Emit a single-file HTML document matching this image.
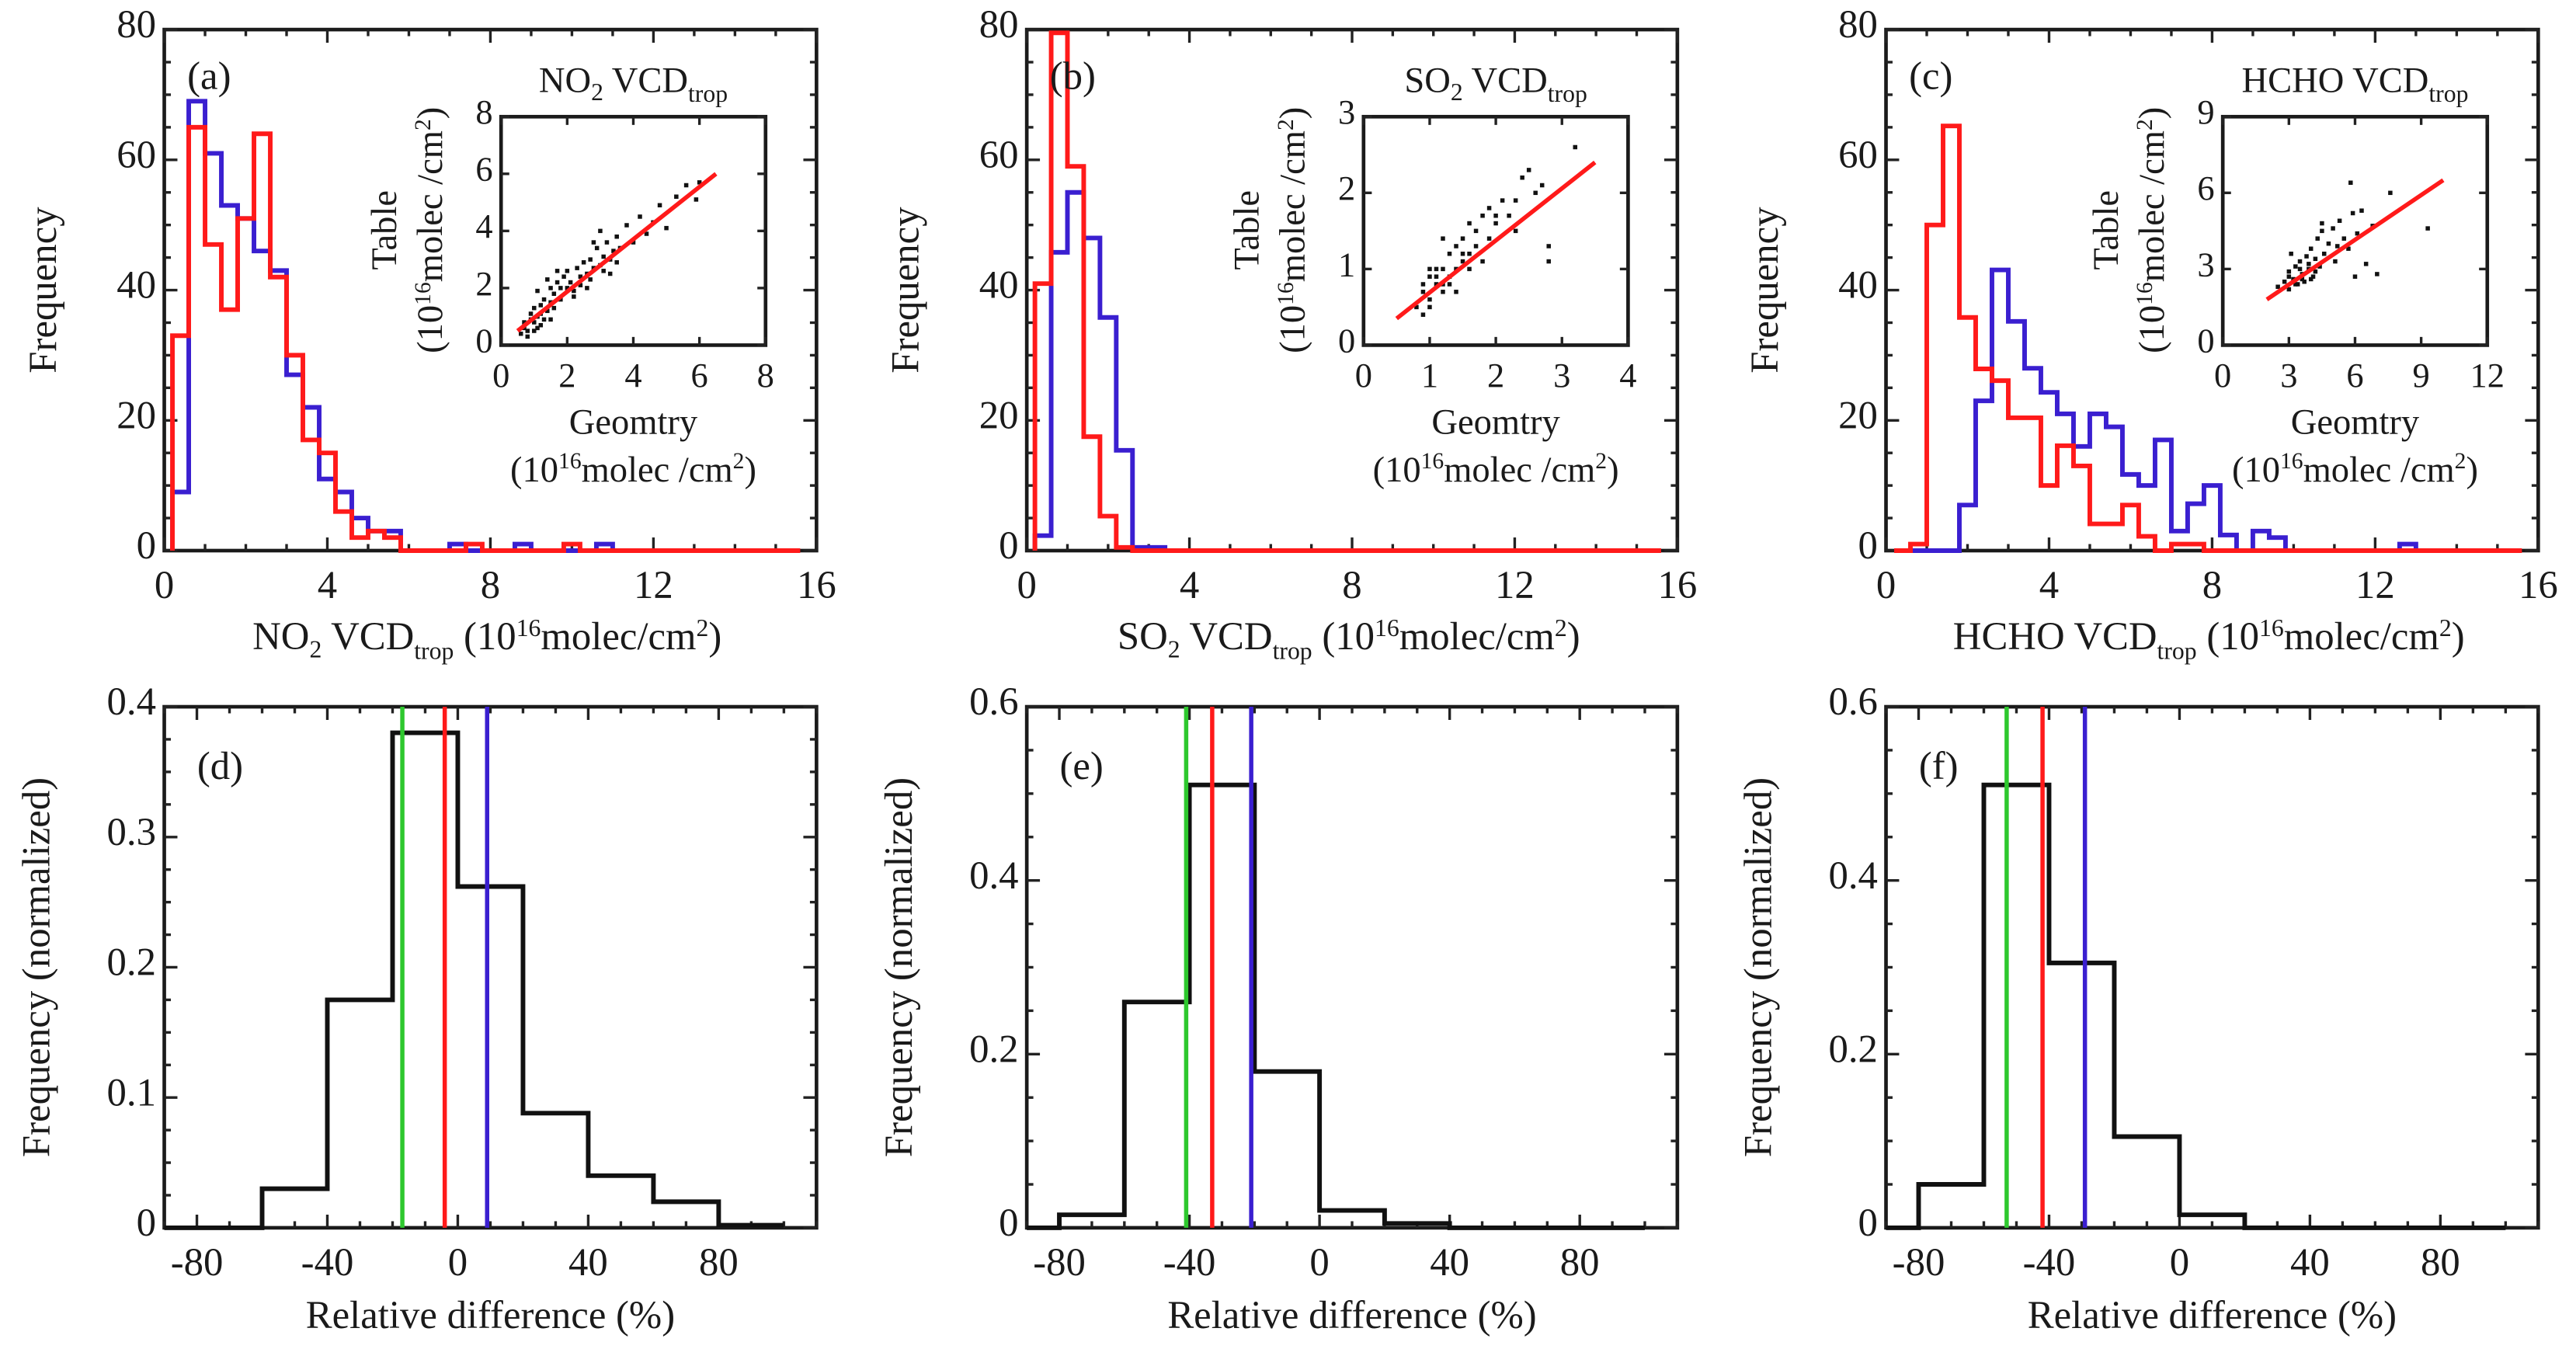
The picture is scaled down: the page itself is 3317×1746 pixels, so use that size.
<!DOCTYPE html>
<html><head><meta charset="utf-8"><style>
html,body{margin:0;padding:0;background:#fff;}
svg{display:block;}
text{font-family:"Liberation Serif",serif;fill:#1a1a1a;}
</style></head><body>
<svg id="fig" xmlns="http://www.w3.org/2000/svg" width="3317" height="1746" viewBox="0 0 1568 825" preserveAspectRatio="none"></svg>
<script>
// ---------- data ----------
const histEdgeStart = 0.2, histBinW = 0.4;
const no2Red  = [33,65,47,37,51,64,42,30,17,15,6,2,3,2,0,0,0,0,1,0,0,0,0,0,1,0,0,0,0,0,0,0,0,0,0,0,0,0];
const no2Blue = [9,69,61,53,51,46,43,27,22,11,9,5,3,3,0,0,0,1,0,0,0,1,0,0,0,0,1,0];
const so2Red  = [41,79.5,59,17.5,5.3,0.5,0,0,0,0,0,0,0,0,0,0,0,0,0,0,0,0,0,0,0,0,0,0,0,0,0,0,0,0,0,0,0,0];
const so2Blue = [2.3,45.8,55,48,35.8,15.4,0.5,0.5];
const hchoRed = [0,1,50,65.2,35.8,27.9,26.1,20.4,20.4,10,16.1,13,4.1,4.1,7,2.2,0,1,1,0,0,0,0,0,0,0,0,0,0,0,0,0,0,0,0,0,0,0];
const hchoBlue= [0,0,0,0,7,23,43.1,35.2,28,24.3,21,16,21,19,11.7,10,17,3,7.2,10,2.4,0,3,2,0,0,0,0,0,0,0,1,0];
const relEdges = [-100,-80,-60,-40,-20,0,20,40,60,80,100];
const relD = [0,0,0.03,0.175,0.38,0.262,0.088,0.04,0.02,0.002];
const relE = [0,0.015,0.26,0.51,0.18,0.02,0.005,0,0,0];
const relF = [0,0.05,0.51,0.305,0.105,0.015,0,0,0,0];
const meanLinesD = [-17,-4,9];
const meanLinesE = [-41,-33,-21];
const meanLinesF = [-53,-42,-29];
const scatANo2X = [0.6,0.7,0.8,0.9,1.0,1.0,1.1,1.2,1.2,1.3,1.4,1.5,1.5,1.6,1.7,1.8,1.9,2.0,2.0,2.1,2.2,2.3,2.4,2.5,2.6,2.7,2.8,2.9,3.0,3.1,3.2,3.3,3.4,3.5,3.6,3.8,4.0,4.2,4.4,4.6,4.8,5.0,5.3,5.6,5.9,6.0,1.1,1.4,1.7,2.2,2.6,3.0,0.9,1.3,2.8,3.3,0.7,0.8,1.0,1.1,1.2,1.5,1.6,1.8,2.4,2.7,3.1,3.5];
const scatANo2Y = [0.4,0.6,0.5,0.9,0.8,1.3,1.0,1.4,0.7,1.6,1.2,2.0,1.5,1.8,2.2,1.6,2.4,2.0,2.6,2.2,1.9,2.7,2.4,2.9,2.5,3.0,2.7,3.4,2.8,3.1,3.6,3.0,3.3,3.8,3.4,4.2,3.6,4.5,3.9,4.3,4.9,4.1,5.2,5.6,5.1,5.7,1.9,2.3,2.6,1.7,2.0,4.0,1.1,0.9,3.6,2.5,0.8,0.3,0.5,0.6,1.1,0.9,1.3,2.0,2.1,2.3,2.6,2.9];
const scatBSo2X = [0.8,0.9,1.0,1.0,1.1,1.1,1.2,1.2,1.3,1.3,1.4,1.4,1.5,1.5,1.6,1.6,1.7,1.7,1.8,1.8,1.9,1.9,2.0,2.1,2.2,2.3,2.4,2.5,2.6,2.8,2.8,3.2,1.0,1.3,1.6,2.0,2.3,2.7,0.9,1.2,0.9,1.0,1.1,1.2,1.4,1.5];
const scatBSo2Y = [0.5,0.7,0.6,0.9,0.8,1.0,0.7,1.0,0.9,1.2,1.0,1.3,1.1,1.4,1.0,1.6,1.3,1.5,1.1,1.7,1.4,1.8,1.6,1.9,1.7,1.5,2.2,2.3,2.0,1.1,1.3,2.6,1.0,0.8,1.2,1.7,1.9,2.1,0.4,1.4,0.8,0.5,0.9,0.8,0.7,1.2];
const scatCHchoX = [2.5,2.8,3.0,3.0,3.2,3.3,3.4,3.5,3.6,3.7,3.8,3.9,4.0,4.1,4.2,4.3,4.4,4.5,4.6,4.8,5.0,5.1,5.3,5.5,5.7,5.9,6.1,6.3,6.8,7.0,7.6,9.3,5.8,3.1,3.5,4.0,4.5,5.2,6.0,6.5,3.0,3.3,3.6,3.9,4.2];
const scatCHchoY = [2.3,2.5,2.9,2.2,2.6,3.1,2.4,3.3,2.8,2.5,3.5,3.0,3.8,2.7,3.4,4.2,3.1,4.5,3.6,4.0,4.6,3.3,4.9,4.2,3.8,5.2,4.4,5.3,4.7,2.8,6.0,4.6,6.4,3.6,3.0,2.6,4.8,3.9,2.7,3.2,2.7,2.4,2.6,3.2,2.9];

// ---------- helpers ----------
const NS="http://www.w3.org/2000/svg";
const svg=document.getElementById('fig');
function mk(tag, attrs, parent){const e=document.createElementNS(NS,tag);for(const k in attrs)e.setAttribute(k,attrs[k]);(parent||svg).appendChild(e);return e;}
function txt(x,y,str,size,anchor,parent,rot){const t=mk('text',{x:x,y:y,'font-size':size,'text-anchor':anchor||'middle'},parent);if(rot)t.setAttribute('transform','rotate(-90 '+x+' '+y+')');t.innerHTML=str;return t;}
function scale(d0,d1,r0,r1){return v=>r0+(v-d0)/(d1-d0)*(r1-r0);}

function axes(box, xd, yd, xTicks, yTicks, xMinor, yMinor, fs, name, lblOff){
  const g=mk('g',{});
  
  
  const X=scale(xd[0],xd[1],box.x0,box.x1), Y=scale(yd[0],yd[1],box.y1,box.y0);
  const r=mk('rect',{x:box.x0,y:box.y0,width:box.x1-box.x0,height:box.y1-box.y0,fill:'none',stroke:'#1a1a1a','stroke-width':box.sw||2.2},g);
  
  
  const L=box.tick||8;
  for(let v=xd[0];v<=xd[1]+1e-9;v+=xMinor){const x=X(v);const maj=xTicks.some(t=>Math.abs(t-v)<1e-6);const l=maj?L:L/2;
    mk('line',{x1:x,y1:box.y1,x2:x,y2:box.y1-l,stroke:'#222','stroke-width':1.6},g);
    mk('line',{x1:x,y1:box.y0,x2:x,y2:box.y0+l,stroke:'#222','stroke-width':1.6},g);}
  for(let v=yd[0];v<=yd[1]+1e-9;v+=yMinor){const y=Y(v);const maj=yTicks.some(t=>Math.abs(t-v)<1e-6);const l=maj?L:L/2;
    mk('line',{x1:box.x0,y1:y,x2:box.x0+l,y2:y,stroke:'#222','stroke-width':1.6},g);
    mk('line',{x1:box.x1,y1:y,x2:box.x1-l,y2:y,stroke:'#222','stroke-width':1.6},g);}
  const off=lblOff||1.3;
  xTicks.forEach(t=>{const e=txt(X(t),box.y1+fs*off,String(t),fs,'middle',g);
    
    });
  yTicks.forEach(t=>{const e=txt(box.x0-5,Y(t)+fs*0.2,String(t),fs,'end',g);
    
    });
  return {X,Y,g};
}
function stepHist(ax, start, w, vals, color, endX, name){
  let d='M'+ax.X(start)+','+ax.Y(0);
  vals.forEach((v,i)=>{const a=start+i*w,b=a+w;d+=' L'+ax.X(a)+','+ax.Y(v)+' L'+ax.X(b)+','+ax.Y(v);});
  const last=start+vals.length*w;
  d+=' L'+ax.X(last)+','+ax.Y(0);
  if(endX>last) d+=' L'+ax.X(endX)+','+ax.Y(0);
  const p=mk('path',{d:d,fill:'none',stroke:color,'stroke-width':2.8,'stroke-linejoin':'miter'},ax.g);
  
  
}
function vline(ax,v,color,y0,y1,name){const l=mk('line',{x1:ax.X(v),x2:ax.X(v),y1:y0,y2:y1,stroke:color,'stroke-width':2.6},ax.g);
  
  }

const TOP={y0:18,y1:335}, BOT={y0:430,y1:747};
const colsX=[[100,497],[625,1021],[1148,1545]];
const topNames=['NO<tspan dy="5" font-size="15">2</tspan><tspan dy="-5"> VCD</tspan><tspan dy="6" font-size="15">trop</tspan>',
 'SO<tspan dy="5" font-size="15">2</tspan><tspan dy="-5"> VCD</tspan><tspan dy="6" font-size="15">trop</tspan>',
 'HCHO VCD<tspan dy="6" font-size="15">trop</tspan>'];
const unitTail='<tspan dy="-6"> (10</tspan><tspan dy="-8" font-size="15">16</tspan><tspan dy="8">molec/cm</tspan><tspan dy="-8" font-size="15">2</tspan><tspan dy="8">)</tspan>';
const topData=[[no2Red,no2Blue,15.6,'no2'],[so2Red,so2Blue,15.6,'so2'],[hchoRed,hchoBlue,15.6,'hcho']];
const panelLetters=['(a)','(b)','(c)','(d)','(e)','(f)'];
const insets=[
 {xd:[0,8],yd:[0,8],xt:[0,2,4,6,8],yt:[0,2,4,6,8],xs:scatANo2X,ys:scatANo2Y,fit:[[0.5,0.5],[6.5,6.0]],title:topNames[0]},
 {xd:[0,4],yd:[0,3],xt:[0,1,2,3,4],yt:[0,1,2,3],xs:scatBSo2X,ys:scatBSo2Y,fit:[[0.5,0.35],[3.5,2.4]],title:topNames[1]},
 {xd:[0,12],yd:[0,9],xt:[0,3,6,9,12],yt:[0,3,6,9],xs:scatCHchoX,ys:scatCHchoY,fit:[[2,1.8],[10,6.5]],title:topNames[2]}];

for(let i=0;i<3;i++){
  const [x0,x1]=colsX[i];
  const ax=axes({x0,x1,y0:TOP.y0,y1:TOP.y1},[0,16],[0,80],[0,4,8,12,16],[0,20,40,60,80],1,5,24,'histogram-panel-'+topData[i][3],1.2);
  stepHist(ax,histEdgeStart,histBinW,topData[i][1],'#3a1fd0',histEdgeStart+topData[i][1].length*histBinW,'blue-histogram-'+topData[i][3]);
  stepHist(ax,histEdgeStart,histBinW,topData[i][0],'#ff1a1a',topData[i][2],'red-histogram-'+topData[i][3]);
  const lt=txt(x0+14,TOP.y0+36,panelLetters[i],24,'start',ax.g);
  
  
  const yt=txt(x0-66,(TOP.y0+TOP.y1)/2,'Frequency',24,'middle',ax.g,true);
  
  
  const xt=txt((x0+x1)/2-2,395,topNames[i]+unitTail,24,'middle',ax.g);
  
  
  // inset
  const ins=insets[i];
  const ib={x0:x0+205,x1:x0+366,y0:71,y1:210,tick:5,sw:2.2};
  const ia=axes(ib,ins.xd,ins.yd,ins.xt,ins.yt,ins.xt[1]-ins.xt[0],ins.yt[1]-ins.yt[0],21,'inset-scatter-'+topData[i][3],1.2);
  ins.xs.forEach((v,k)=>{const c=mk('rect',{x:ia.X(v)-1.3,y:ia.Y(ins.ys[k])-1.3,width:2.6,height:2.6,fill:'#111'},ia.g);
    
    });
  const fl=mk('line',{x1:ia.X(ins.fit[0][0]),y1:ia.Y(ins.fit[0][1]),x2:ia.X(ins.fit[1][0]),y2:ia.Y(ins.fit[1][1]),stroke:'#ff1a1a','stroke-width':2.6},ia.g);
  
  
  const it=txt((ib.x0+ib.x1)/2,56,ins.title,22,'middle',ia.g);
  
  
  const iy1=txt(ib.x0-64,140,'Table',22,'middle',ia.g,true);
  
  
  const iy2=txt(ib.x0-36,140,'(10<tspan dy="-7" font-size="14">16</tspan><tspan dy="7">molec /cm</tspan><tspan dy="-7" font-size="14">2</tspan><tspan dy="7">)</tspan>',22,'middle',ia.g,true);
  
  
  const ix1=txt((ib.x0+ib.x1)/2,264,'Geomtry',22,'middle',ia.g);
  
  
  const ix2=txt((ib.x0+ib.x1)/2,293,'(10<tspan dy="-8" font-size="14">16</tspan><tspan dy="8">molec /cm</tspan><tspan dy="-8" font-size="14">2</tspan><tspan dy="8">)</tspan>',22,'middle',ia.g);
  
  
}

const botData=[[relD,meanLinesD,[0,0.4],[0,0.1,0.2,0.3,0.4],0.025,'d'],[relE,meanLinesE,[0,0.6],[0,0.2,0.4,0.6],0.05,'e'],[relF,meanLinesF,[0,0.6],[0,0.2,0.4,0.6],0.05,'f']];
for(let i=0;i<3;i++){
  const [x0,x1]=colsX[i];
  const b=botData[i];
  const ax=axes({x0,x1,y0:BOT.y0,y1:BOT.y1},[-90,110],b[2],[-80,-40,0,40,80],b[3],10,b[4],24,'relative-difference-panel-'+b[5],1.2);
  let d='M'+ax.X(-90)+','+ax.Y(0);
  b[0].forEach((v,k)=>{const a=Math.max(relEdges[k],-90),c=relEdges[k+1];d+=' L'+ax.X(a)+','+ax.Y(v)+' L'+ax.X(c)+','+ax.Y(v);});
  const p=mk('path',{d:d,fill:'none',stroke:'#111','stroke-width':2.8},ax.g);
  
  
  vline(ax,b[1][0],'#2ec82e',BOT.y0,BOT.y1,'green-mean-line');
  vline(ax,b[1][1],'#ff1a1a',BOT.y0,BOT.y1,'red-mean-line');
  vline(ax,b[1][2],'#3a1fd0',BOT.y0,BOT.y1,'blue-mean-line');
  const lt=txt(x0+20,BOT.y0+44,panelLetters[3+i],24,'start',ax.g);
  
  
  const yt=txt(x0-70,(BOT.y0+BOT.y1)/2,'Frequency (normalized)',24,'middle',ax.g,true);
  
  
  const xt=txt((x0+x1)/2,808,'Relative difference (%)',24,'middle',ax.g);
  
  
}
</script>
</body></html>
